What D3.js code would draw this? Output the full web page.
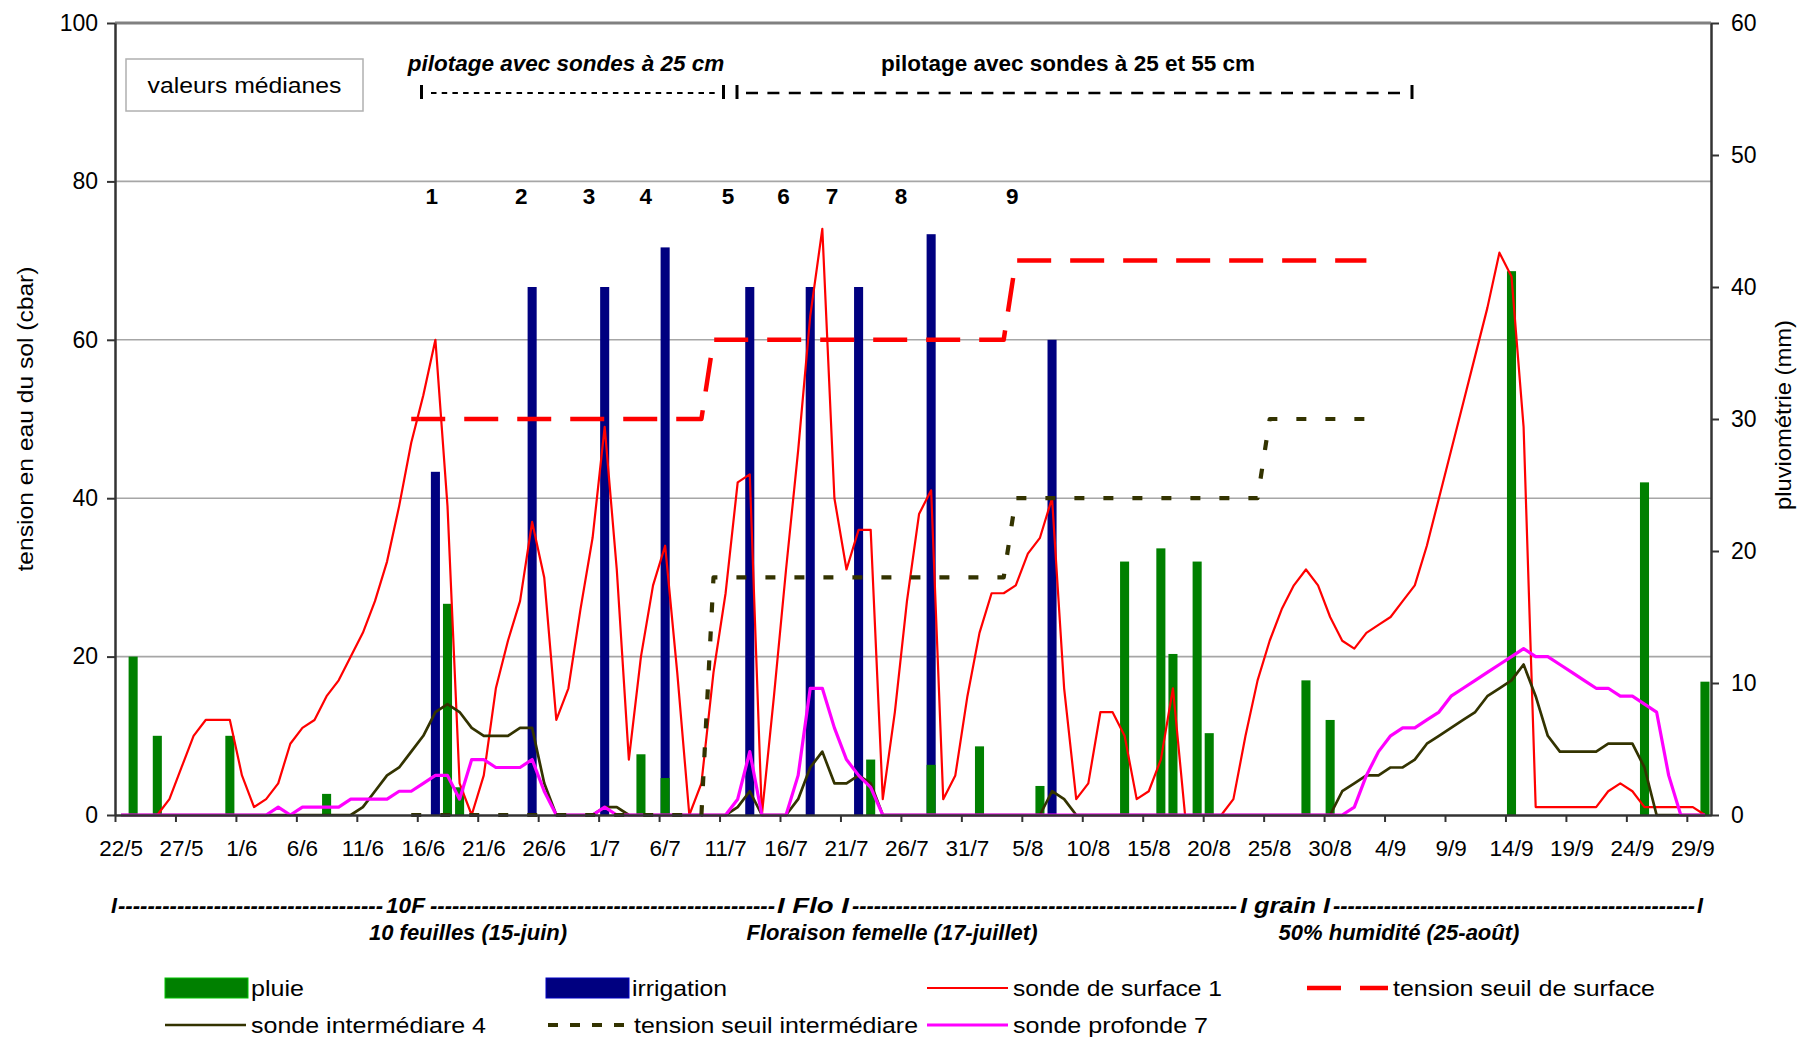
<!DOCTYPE html>
<html>
<head>
<meta charset="utf-8">
<script src="https://cdn.jsdelivr.net/npm/d3@7"></script>
<style>
  body { margin: 0; background: #fff; }
  svg { display: block; font-family: "Liberation Sans", Arial, sans-serif; }
</style>
</head>
<body>
<svg id="chart" width="1798" height="1037"></svg>
<script>
// one category per day, 22/5 -> 30/9
const days = d3.timeDay.range(new Date(2007, 4, 22), new Date(2007, 9, 1));
const dayLabels = days.map(d3.timeFormat("%-d/%-m"));

const tickLabels = ["22/5", "27/5", "1/6", "6/6", "11/6", "16/6", "21/6", "26/6", "1/7", "6/7",
    "11/7", "16/7", "21/7", "26/7", "31/7", "5/8", "10/8", "15/8", "20/8", "25/8", "30/8",
    "4/9", "9/9", "14/9", "19/9", "24/9", "29/9"];

// daily median tensions (cbar)
const sondeSurface1 = [0, 0, 0, 0, 2, 6, 10, 12, 12, 12, 5, 1, 2, 4, 9, 11, 12, 15, 17, 20,
    23, 27, 32, 39, 47, 53, 60, 39, 4, 0, 5, 16, 22, 27, 37, 30, 12, 16, 26, 35,
    49, 31, 7, 20, 29, 34, 18, 0, 4, 18, 28, 42, 43, 0, 15, 31, 46, 63, 74, 40,
    31, 36, 36, 2, 13, 27, 38, 41, 2, 5, 15, 23, 28, 28, 29, 33, 35, 40, 16, 2,
    4, 13, 13, 10, 2, 3, 7, 16, 0, 0, 0, 0, 2, 10, 17, 22, 26, 29, 31, 29,
    25, 22, 21, 23, 24, 25, 27, 29, 34, 40, 46, 52, 58, 64, 71, 68, 49, 1, 1, 1,
    1, 1, 1, 3, 4, 3, 1, 1, 1, 1, 1, 0];

const sondeIntermediaire4 = [0, 0, 0, 0, 0, 0, 0, 0, 0, 0, 0, 0, 0, 0, 0, 0, 0, 0, 0, 0,
    1, 3, 5, 6, 8, 10, 13, 14, 13, 11, 10, 10, 10, 11, 11, 4, 0, 0, 0, 0,
    1, 1, 0, 0, 0, 0, 0, 0, 0, 0, 0, 1, 3, 0, 0, 0, 2, 6, 8, 4,
    4, 5, 4, 0, 0, 0, 0, 0, 0, 0, 0, 0, 0, 0, 0, 0, 0, 3, 2, 0,
    0, 0, 0, 0, 0, 0, 0, 0, 0, 0, 0, 0, 0, 0, 0, 0, 0, 0, 0, 0,
    0, 3, 4, 5, 5, 6, 6, 7, 9, 10, 11, 12, 13, 15, 16, 17, 19, 15, 10, 8,
    8, 8, 8, 9, 9, 9, 6, 0, 0, 0, 0, 0];

const sondeProfonde7 = [0, 0, 0, 0, 0, 0, 0, 0, 0, 0, 0, 0, 0, 1, 0, 1, 1, 1, 1, 2,
    2, 2, 2, 3, 3, 4, 5, 5, 2, 7, 7, 6, 6, 6, 7, 3, 0, 0, 0, 0,
    1, 0, 0, 0, 0, 0, 0, 0, 0, 0, 0, 2, 8, 0, 0, 0, 5, 16, 16, 11,
    7, 5, 3.5, 0, 0, 0, 0, 0, 0, 0, 0, 0, 0, 0, 0, 0, 0, 0, 0, 0,
    0, 0, 0, 0, 0, 0, 0, 0, 0, 0, 0, 0, 0, 0, 0, 0, 0, 0, 0, 0,
    0, 0, 1, 5, 8, 10, 11, 11, 12, 13, 15, 16, 17, 18, 19, 20, 21, 20, 20, 19,
    18, 17, 16, 16, 15, 15, 14, 13, 5, 0, 0, 0];

// threshold breakpoints [day, cbar]
const seuilSurface = [["15/6", 50], ["9/7", 50], ["10/7", 60], ["3/8", 60], ["4/8", 70], ["2/9", 70]];
const seuilIntermediaire = [["15/6", 0], ["9/7", 0], ["10/7", 30], ["3/8", 30], ["4/8", 40],
    ["24/8", 40], ["25/8", 50], ["2/9", 50]];

// rainfall and irrigation (mm)
const pluie = [["23/5", 12], ["25/5", 6], ["31/5", 6], ["8/6", 1.6], ["18/6", 16], ["19/6", 2.1],
    ["4/7", 4.6], ["6/7", 2.8], ["23/7", 4.2], ["28/7", 3.8], ["1/8", 5.2], ["6/8", 2.2],
    ["13/8", 19.2], ["16/8", 20.2], ["17/8", 12.2], ["19/8", 19.2], ["20/8", 6.2], ["28/8", 10.2],
    ["30/8", 7.2], ["14/9", 41.2], ["25/9", 25.2], ["30/9", 10.1]];
const irrigation = [["17/6", 26], ["25/6", 40], ["1/7", 40], ["6/7", 43], ["13/7", 40],
    ["18/7", 40], ["22/7", 40], ["28/7", 44], ["7/8", 36]];

// irrigation numbers, anchored in day units
const irrigNumbers = ["1", "2", "3", "4", "5", "6", "7", "8", "9"];
const irrigNumberDays = [26.2, 33.6, 39.2, 43.9, 50.7, 55.3, 59.3, 65.0, 74.2];

const svg = d3.select("#chart");
const plotLeft = 115, plotRight = 1711, plotTop = 23, plotBottom = 815;

const xLin = d3.scaleLinear().domain([0, dayLabels.length]).range([plotLeft, plotRight]);
const xBand = d3.scaleBand().domain(dayLabels).range([plotLeft, plotRight])
    .paddingInner(0.25).paddingOuter(0.125);
const cx = lbl => xBand(lbl) + xBand.bandwidth() / 2;
const yL = d3.scaleLinear().domain([0, 100]).range([plotBottom, plotTop]);
const yR = d3.scaleLinear().domain([0, 60]).range([plotBottom, plotTop]);

// gridlines
svg.append("g").selectAll("line")
    .data([20, 40, 60, 80])
    .join("line")
    .attr("x1", plotLeft).attr("x2", plotRight)
    .attr("y1", d => yL(d)).attr("y2", d => yL(d))
    .attr("stroke", "#a6a6a6").attr("stroke-width", 1.6);

svg.append("line")
    .attr("x1", plotLeft).attr("x2", plotRight).attr("y1", yL(100)).attr("y2", yL(100))
    .attr("stroke", "#808080").attr("stroke-width", 3);

// bars: irrigation behind, rain in front
svg.append("g").selectAll("rect")
    .data(irrigation)
    .join("rect")
    .attr("x", d => xBand(d[0]))
    .attr("width", xBand.bandwidth())
    .attr("y", d => yR(d[1]))
    .attr("height", d => plotBottom - yR(d[1]))
    .attr("fill", "#000080");

svg.append("g").selectAll("rect")
    .data(pluie)
    .join("rect")
    .attr("x", d => xBand(d[0]))
    .attr("width", xBand.bandwidth())
    .attr("y", d => yR(d[1]))
    .attr("height", d => plotBottom - yR(d[1]))
    .attr("fill", "#008000");

// lines
const dayLine = d3.line().x((d, i) => cx(dayLabels[i])).y(d => yL(d));
const stepLine = d3.line().x(d => cx(d[0])).y(d => yL(d[1]));

function addPath(d, color, width, dash) {
    svg.append("path")
        .attr("d", d)
        .attr("fill", "none")
        .attr("stroke", color)
        .attr("stroke-width", width)
        .attr("stroke-linejoin", "round")
        .attr("stroke-dasharray", dash || null);
}

addPath(dayLine(sondeSurface1), "#ff0000", 2.2);
addPath(dayLine(sondeIntermediaire4), "#333300", 2.7);
addPath(dayLine(sondeProfonde7), "#ff00ff", 3.2);
addPath(stepLine(seuilSurface), "#ff0000", 4.5, "34,19");
addPath(stepLine(seuilIntermediaire), "#333300", 4.2, "10,19");

// axes
const axisColor = "#333";
const gL = svg.append("g").attr("transform", `translate(${plotLeft},0)`)
    .call(d3.axisLeft(yL).tickValues([0, 20, 40, 60, 80, 100]).tickSize(8).tickSizeOuter(0).tickPadding(9));
const gR = svg.append("g").attr("transform", `translate(${plotRight},0)`)
    .call(d3.axisRight(yR).tickValues([0, 10, 20, 30, 40, 50, 60]).tickSize(8).tickSizeOuter(0).tickPadding(12));
const gX = svg.append("g").attr("transform", `translate(0,${plotBottom})`)
    .call(d3.axisBottom(xLin).tickValues(d3.range(0, 131, 5)).tickSize(7).tickSizeOuter(0).tickFormat(""));
const gXL = svg.append("g").attr("transform", `translate(0,${plotBottom})`)
    .call(d3.axisBottom(xBand).tickValues(dayLabels.filter(l => tickLabels.includes(l)))
        .tickSize(0).tickPadding(25).tickFormat(l => tickLabels[tickLabels.indexOf(l)]));
gXL.select(".domain").remove();

[gL, gR, gX, gXL].forEach(g => {
    g.selectAll(".domain").attr("stroke", axisColor).attr("stroke-width", 2.5);
    g.selectAll(".tick line").attr("stroke", axisColor).attr("stroke-width", 2);
    g.selectAll("text").attr("font-family", "Liberation Sans, Arial, sans-serif")
        .attr("font-size", 23).attr("fill", "#000");
});
gXL.selectAll("text").attr("font-size", 22.5);

// axis titles (the source text is slightly stretched along its length)
svg.append("text")
    .attr("transform", `translate(33,${(plotTop + plotBottom) / 2}) rotate(-90)`)
    .attr("text-anchor", "middle").attr("font-size", 22.5)
    .attr("textLength", 305).attr("lengthAdjust", "spacingAndGlyphs")
    .text("tension en eau du sol (cbar)");
svg.append("text")
    .attr("transform", `translate(1791,${(plotTop + plotBottom) / 2 - 4}) rotate(-90)`)
    .attr("text-anchor", "middle").attr("font-size", 22.5)
    .attr("textLength", 190).attr("lengthAdjust", "spacingAndGlyphs")
    .text("pluviométrie (mm)");

// "valeurs médianes" box
svg.append("rect").attr("x", 126).attr("y", 59).attr("width", 237).attr("height", 52)
    .attr("fill", "#fff").attr("stroke", "#b0b0b0").attr("stroke-width", 1.5);
svg.append("text").attr("x", 244.5).attr("y", 93).attr("text-anchor", "middle")
    .attr("font-size", 22.5).attr("textLength", 194).attr("lengthAdjust", "spacingAndGlyphs")
    .text("valeurs médianes");

// piloting periods
svg.append("text").attr("x", 566).attr("y", 71).attr("text-anchor", "middle")
    .attr("font-size", 22.5).attr("font-weight", "bold").attr("font-style", "italic")
    .text("pilotage avec sondes à 25 cm");
svg.append("text").attr("x", 1068).attr("y", 71).attr("text-anchor", "middle")
    .attr("font-size", 22.5).attr("font-weight", "bold")
    .text("pilotage avec sondes à 25 et 55 cm");

const pilot = svg.append("g").attr("stroke", "#000");
pilot.append("line").attr("x1", 431).attr("x2", 717).attr("y1", 93).attr("y2", 93)
    .attr("stroke-width", 2.2).attr("stroke-dasharray", "5.5,5.2");
pilot.append("line").attr("x1", 746).attr("x2", 1405).attr("y1", 93).attr("y2", 93)
    .attr("stroke-width", 2.4).attr("stroke-dasharray", "12,9.4");
[421.5, 723.5, 737, 1412].forEach(x => {
    pilot.append("line").attr("x1", x).attr("x2", x).attr("y1", 85).attr("y2", 99)
        .attr("stroke-width", 3);
});

// irrigation numbers
svg.append("g").selectAll("text")
    .data(irrigNumbers)
    .join("text")
    .attr("x", (d, i) => xLin(irrigNumberDays[i]))
    .attr("y", 204)
    .attr("text-anchor", "middle")
    .attr("font-size", 22.5).attr("font-weight", "bold")
    .text(d => d);

// phenology stages under the axis
const pheno = svg.append("g").attr("font-size", 22).attr("font-weight", "bold")
    .attr("font-style", "italic");
const dashRun = (x0, x1) => "-".repeat(Math.round((x1 - x0) / 7.3));
const phenoLine = [
    ["I", 111, 117],
    [null, 118, 383],
    ["10F", 386, 425],
    [null, 430, 775],
    ["I Flo I", 777, 849],
    [null, 852, 1237],
    ["I grain  I", 1240, 1330],
    [null, 1333, 1695],
    ["I", 1697, 1703]
];
phenoLine.forEach(([t, x0, x1]) => {
    pheno.append("text").attr("x", x0).attr("y", 913)
        .attr("textLength", x1 - x0).attr("lengthAdjust", "spacingAndGlyphs")
        .text(t || dashRun(x0, x1));
});
[["10 feuilles (15-juin)", 468], ["Floraison femelle (17-juillet)", 892],
 ["50% humidité (25-août)", 1399]].forEach(([t, x]) => {
    pheno.append("text").attr("x", x).attr("y", 940).attr("text-anchor", "middle").text(t);
});

// legend (text slightly stretched like the source)
const legend = svg.append("g").attr("font-size", 22.5);
const legendItems = [
    {label: "pluie", type: "rect", color: "#008000", x: 165, y: 988, tw: 53},
    {label: "irrigation", type: "rect", color: "#000080", x: 546, y: 988, tw: 95},
    {label: "sonde de surface 1", type: "line", color: "#ff0000", w: 2.2, x: 927, y: 988, tw: 209},
    {label: "tension seuil de surface", type: "line", color: "#ff0000", w: 4.5, dash: "34,19", x: 1307, y: 988, tw: 262},
    {label: "sonde intermédiare 4", type: "line", color: "#333300", w: 2.7, x: 165, y: 1025, tw: 235},
    {label: "tension seuil intermédiare", type: "line", color: "#333300", w: 4.2, dash: "10,12", x: 548, y: 1025, tw: 284},
    {label: "sonde profonde 7", type: "line", color: "#ff00ff", w: 3.2, x: 927, y: 1025, tw: 195}
];
legendItems.forEach(it => {
    if (it.type === "rect") {
        legend.append("rect").attr("x", it.x).attr("y", it.y - 10).attr("width", 83).attr("height", 20)
            .attr("fill", it.color).attr("stroke", d3.color(it.color).brighter(1.2)).attr("stroke-width", 1);
    } else {
        legend.append("line").attr("x1", it.x).attr("x2", it.x + 81).attr("y1", it.y).attr("y2", it.y)
            .attr("stroke", it.color).attr("stroke-width", it.w).attr("stroke-dasharray", it.dash || null);
    }
    legend.append("text").attr("x", it.x + 86).attr("y", it.y + 7.5)
        .attr("textLength", it.tw).attr("lengthAdjust", "spacingAndGlyphs")
        .text(it.label);
});
</script>
</body>
</html>
